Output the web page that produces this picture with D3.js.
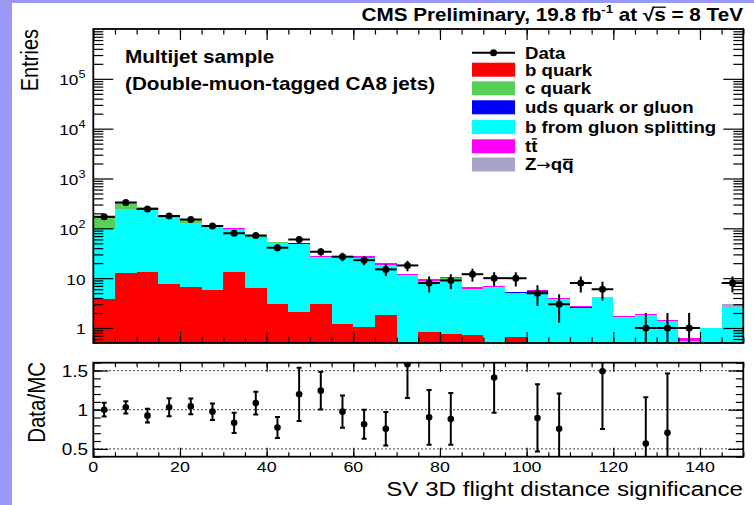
<!DOCTYPE html>
<html><head><meta charset="utf-8">
<script src="https://cdn.jsdelivr.net/npm/d3@7"></script>
<style>
body{margin:0;background:#fff}
svg{display:block}
text{font-family:"Liberation Sans",Arial,Helvetica,sans-serif;fill:#000}
</style>
</head><body>
<svg id="c" width="754" height="505"></svg>
<script>
// ---------- data ----------
const binLowEdges = [0,5,10,15,20,25,30,35,40,45,50,55,60,65,70,75,80,85,90,95,100,105,110,115,120,125,130,135,140,145];
const binWidth = 5;
const bQuark   = [3.9,12.5,13.5,7.6,6.5,5.8,13.5,6.4,3.0,2.07,3.0,1.2,1.06,1.85,0,0.84,0.75,0.73,0,0.67,0,0,0,0,0,0,0,0,0,0];
const bGluonSplit = [91.8,228.5,219.5,151.4,119.5,102.2,79.1,56.6,48.5,46.4,23.2,25.0,23.9,16.55,11.6,7.96,9.05,5.33,6.5,4.43,5.35,3.82,2.55,4.13,1.64,1.82,1.38,0.55,1.0,2.68];
const cQuark   = [63,82,30,16,24,6,4.5,6.5,1,1,0.3,0.3,0.8,0.3,0.1,0.1,0.1,0.05,0.05,0.05,0.05,0.03,0.02,0.02,0.02,0.02,0.02,0,0,0];
const udsQuark = [5,4,2,1.5,1.5,1,1,0.8,0.3,0.3,0.1,0.1,0.1,0.1,0.05,0.05,0.05,0.03,0.03,0.03,0.02,0.02,0.01,0.01,0.01,0.01,0.01,0,0,0];
const ttbar    = [1.5,3,7,2.5,2.5,2,2,3,1.5,1.7,1.3,1.3,2,1.1,0.6,0.6,0.55,0.4,0.5,0.2,0.4,0.22,0.15,0.05,0.05,0.08,0.07,0.07,0,0.02];
const zqq      = [0,0,0,0,0,0,0,0,0,0,0,0,0,0,0,0,0,0,0,0,0,0,0,0,0,0,0,0,0,0.3];
const dataCounts = [171,330,244,176,150,112,80,72,41,60,34,27,23,15,18,8,9,12,10,10,5,3,8,6,0,1,1,1,0,8];
// ratio Data/MC (null = outside the shown range)
const ratioVal = [1.00,1.03,0.924,1.03,1.042,0.975,0.832,1.084,0.773,1.197,1.243,0.975,0.815,0.757,1.58,0.903,0.882,null,1.412,null,0.895,0.757,null,1.49,null,0.567,0.706,null,null,null];
const ratioErr = [0.088,0.078,0.088,0.115,0.10,0.105,0.128,0.145,0.133,0.34,0.24,0.205,0.185,0.215,0.43,0.35,0.33,null,0.45,null,0.43,0.45,null,0.735,null,0.593,0.757,null,null,null];

const seriesNames  = ["b quark","b from gluon splitting","c quark","uds quark or gluon","tt","Z\u2192qq"];
const legendOrder  = ["b quark","c quark","uds quark or gluon","b from gluon splitting","tt","Z\u2192qq"];
const seriesColors = {"b quark":"#ff0000","b from gluon splitting":"#00ffff","c quark":"#58d058","uds quark or gluon":"#0000ff","tt":"#ff00ff","Z\u2192qq":"#a8a4c8"};
const stackValues  = [bQuark,bGluonSplit,cQuark,udsQuark,ttbar,zqq];

const xMajorTicks = [0,20,40,60,80,100,120,140];
const yDecadeTicks = [1,10,100,1000,10000,100000];
const ratioMajorTicks = [0.5,1,1.5];

// ---------- layout ----------
const BG = "#9a9af6";
const L = 93.3, R = 743.3, T1 = 29, B1 = 343, T2 = 362.7, B2 = 456.7;
const SX = 1.15;

const svg = d3.select("#c");
svg.append("rect").attr("width",754).attr("height",505).attr("fill","#fff");
svg.append("rect").attr("x",0).attr("y",0).attr("width",12).attr("height",505).attr("fill",BG);
svg.append("rect").attr("x",0).attr("y",0).attr("width",754).attr("height",3).attr("fill",BG);

const x = d3.scaleLinear([0,150],[L,R]);
const yTop = d3.scaleLog([0.5,1e6],[B1,T1]);
const yRat = d3.scaleLinear([0.4,1.6],[B2,T2]);

const defs = svg.append("defs");
defs.append("clipPath").attr("id","clipTop").append("rect").attr("x",L).attr("y",T1).attr("width",R-L).attr("height",B1-T1);
defs.append("clipPath").attr("id","clipBot").append("rect").attr("x",L).attr("y",T2).attr("width",R-L).attr("height",B2-T2);

function clampY(v, lo, hi){ return Math.max(lo, Math.min(hi, v)); }
function yT(v){ return v <= 0 ? B1 : clampY(yTop(v), T1, B1); }

// ---------- stacked histogram ----------
const gStack = svg.append("g").attr("clip-path","url(#clipTop)");
const cum = [];
stackValues.forEach((arr,k)=>{ cum.push(arr.map((v,i)=> v + (k>0 ? cum[k-1][i] : 0))); });
for (let k = stackValues.length-1; k >= 0; k--) {
  gStack.append("g").selectAll("rect").data(binLowEdges).join("rect")
    .attr("x", d=>x(d)).attr("width", d=>x(d+binWidth)-x(d))
    .attr("y", (d,i)=>yT(cum[k][i])).attr("height", (d,i)=>B1-yT(cum[k][i]))
    .attr("fill", seriesColors[seriesNames[k]]).attr("shape-rendering","crispEdges");
}

// ---------- data points ----------
const gData = svg.append("g").attr("clip-path","url(#clipTop)").attr("stroke","#000").attr("stroke-width",2);
binLowEdges.forEach((lo,i)=>{
  const n = dataCounts[i]; if (n <= 0) return;
  const cx = x(lo+binWidth/2), cy = yTop(n), e = Math.sqrt(n);
  gData.append("line").attr("x1",x(lo)).attr("x2",x(lo+binWidth)).attr("y1",cy).attr("y2",cy);
  gData.append("line").attr("x1",cx).attr("x2",cx).attr("y1",yT(n+e)).attr("y2",yT(n-e));
  gData.append("circle").attr("cx",cx).attr("cy",cy).attr("r",3.5).attr("fill","#000").attr("stroke","none");
});

// ---------- ratio panel ----------
const gGrid = svg.append("g");
ratioMajorTicks.forEach(v=>{
  gGrid.append("line").attr("x1",L).attr("x2",R).attr("y1",yRat(v)).attr("y2",yRat(v))
    .attr("stroke","#333").attr("stroke-width",1.2).attr("stroke-dasharray","1.5,2.5");
});
const gRat = svg.append("g").attr("clip-path","url(#clipBot)").attr("stroke","#000").attr("stroke-width",2);
binLowEdges.forEach((lo,i)=>{
  const v = ratioVal[i]; if (v == null) return;
  const e = ratioErr[i], cx = x(lo+binWidth/2);
  const yU = yRat(v+e), yD = yRat(v-e);
  gRat.append("line").attr("x1",cx).attr("x2",cx).attr("y1",clampY(yU,T2,B2)).attr("y2",clampY(yD,T2,B2));
  if (yU > T2) gRat.append("line").attr("x1",cx-2.5).attr("x2",cx+2.5).attr("y1",yU).attr("y2",yU);
  if (yD < B2) gRat.append("line").attr("x1",cx-2.5).attr("x2",cx+2.5).attr("y1",yD).attr("y2",yD);
  gRat.append("circle").attr("cx",cx).attr("cy",yRat(v)).attr("r",3.3).attr("fill","#000").attr("stroke","none");
});

// ---------- axes ticks ----------
function ticks(tr, axisGen){
  const g = svg.append("g").attr("transform",tr).call(axisGen);
  g.select(".domain").remove();
  g.selectAll(".tick text").remove();
  g.selectAll(".tick line").attr("stroke","#000").attr("stroke-width",1.2);
}
const xMinor = d3.range(0,151,5);
// upper x
ticks(`translate(0,${B1})`, d3.axisBottom(x).tickValues(xMajorTicks).tickSize(-11));
ticks(`translate(0,${B1})`, d3.axisBottom(x).tickValues(xMinor).tickSize(-5.5));
ticks(`translate(0,${T1})`, d3.axisTop(x).tickValues(xMajorTicks).tickSize(-11));
ticks(`translate(0,${T1})`, d3.axisTop(x).tickValues(xMinor).tickSize(-5.5));
// upper y (log)
const yMinor = [];
for (let e=-1;e<=5;e++) for (let m=2;m<=9;m++){ const v=m*Math.pow(10,e); if (v>0.5 && v<1e6) yMinor.push(v); }
ticks(`translate(${L},0)`, d3.axisLeft(yTop).tickValues(yDecadeTicks).tickSize(-20));
ticks(`translate(${L},0)`, d3.axisLeft(yTop).tickValues(yMinor).tickSize(-10));
ticks(`translate(${R},0)`, d3.axisRight(yTop).tickValues(yDecadeTicks).tickSize(-20));
ticks(`translate(${R},0)`, d3.axisRight(yTop).tickValues(yMinor).tickSize(-10));
// lower x
ticks(`translate(0,${B2})`, d3.axisBottom(x).tickValues(xMajorTicks).tickSize(-9));
ticks(`translate(0,${B2})`, d3.axisBottom(x).tickValues(xMinor).tickSize(-4.5));
ticks(`translate(0,${T2})`, d3.axisTop(x).tickValues(xMajorTicks).tickSize(-9));
ticks(`translate(0,${T2})`, d3.axisTop(x).tickValues(xMinor).tickSize(-4.5));
// lower y
const rMinor = d3.range(4,17).map(v=>v/10);
ticks(`translate(${L},0)`, d3.axisLeft(yRat).tickValues(ratioMajorTicks).tickSize(-15));
ticks(`translate(${L},0)`, d3.axisLeft(yRat).tickValues(rMinor).tickSize(-7.5));
ticks(`translate(${R},0)`, d3.axisRight(yRat).tickValues(ratioMajorTicks).tickSize(-15));
ticks(`translate(${R},0)`, d3.axisRight(yRat).tickValues(rMinor).tickSize(-7.5));

// frames
[[T1,B1],[T2,B2]].forEach(([t,b])=>{
  svg.append("rect").attr("x",L).attr("y",t).attr("width",R-L).attr("height",b-t)
    .attr("fill","none").attr("stroke","#000").attr("stroke-width",1.8);
});

// ---------- text helper ----------
function label(x0,y0,str,{size=16,weight="normal",anchor="start",rot=0}={}){
  const g = svg.append("g").attr("transform",`translate(${x0},${y0}) scale(${SX},1)`+(rot?` rotate(${rot})`:""));
  const t = g.append("text").attr("font-size",size).attr("font-weight",weight).attr("text-anchor",anchor).text(str);
  return {g,t};
}

// tick labels
xMajorTicks.forEach(v=> label(x(v),472,String(v),{size:15.5,anchor:"middle"}));
ratioMajorTicks.forEach(v=> label(88,yRat(v)+6,String(v),{size:16.5,anchor:"end"}));
yDecadeTicks.forEach(v=>{
  const e = Math.round(Math.log10(v));
  const {t} = label(85.5,yTop(v)+6.5, e<2 ? String(v) : "10",{size:15,anchor:"end"});
  if (e>=2) t.append("tspan").attr("font-size",11).attr("dy",-7).text(String(e));
});

// axis titles
label(37.5,29,"Entries",{size:20,anchor:"end",rot:-90});
label(45,362,"Data/MC",{size:20.5,anchor:"end",rot:-90});
label(743,496,"SV 3D flight distance significance",{size:21,anchor:"end"});

// title
{
  const g = svg.append("g").attr("transform",`translate(743,21) scale(${SX},1)`);
  const t = g.append("text").attr("font-size",18).attr("font-weight","bold").attr("text-anchor","end");
  const p1 = "CMS Preliminary, 19.8 fb", p2 = "-1", p3 = " at \u221As = 8 TeV";
  t.append("tspan").text(p1);
  t.append("tspan").attr("font-size",11.5).attr("dy",-8).text(p2);
  t.append("tspan").attr("dy",8).text(p3);
  const idx = (p1+p2+p3).indexOf("\u221A");
  const n = t.node();
  const x1 = n.getEndPositionOfChar(idx).x - 1.5, x2 = n.getEndPositionOfChar(idx+1).x;
  g.append("line").attr("x1",x1).attr("x2",x2).attr("y1",-13.8).attr("y2",-13.8).attr("stroke","#000").attr("stroke-width",1.3);
}

// annotation
label(125,63,"Multijet sample",{size:18,weight:"bold"});
label(125,90,"(Double-muon-tagged CA8 jets)",{size:18,weight:"bold"});

// legend
const legRows = [52.7,69.7,88.3,107.3,127,146.3,164.5];
const legX0 = 472, legX1 = 515, legTX = 525;
svg.append("line").attr("x1",legX0).attr("x2",legX1).attr("y1",legRows[0]).attr("y2",legRows[0]).attr("stroke","#000").attr("stroke-width",2);
svg.append("circle").attr("cx",(legX0+legX1)/2).attr("cy",legRows[0]).attr("r",3.5).attr("fill","#000");
label(legTX,legRows[0]+5.8,"Data",{size:16.2,weight:"bold"});
legendOrder.forEach((name,j)=>{
  const cy = legRows[j+1];
  svg.append("rect").attr("x",legX0).attr("y",cy-7).attr("width",legX1-legX0).attr("height",14).attr("fill",seriesColors[name]);
  let g, t;
  if (name==="Z\u2192qq"){
    ({g,t} = label(legTX,cy+5.8,"",{size:16.2,weight:"bold"}));
    t.append("tspan").text("Z");
    t.append("tspan").attr("font-family","'DejaVu Sans',sans-serif").attr("font-weight","normal").attr("font-size",15).text("\u2192");
    t.append("tspan").text("qq");
  } else {
    ({g,t} = label(legTX,cy+5.8,name,{size:16.2,weight:"bold"}));
  }
  if (name==="tt" || name==="Z\u2192qq"){
    const n = t.node(), last = n.getNumberOfChars()-1;
    const a = n.getStartPositionOfChar(last).x, b = n.getEndPositionOfChar(last).x;
    const yy = name==="tt" ? -13.2 : -10.8;
    g.append("line").attr("x1",a+0.5).attr("x2",b-0.5).attr("y1",yy).attr("y2",yy).attr("stroke","#000").attr("stroke-width",1.4);
  }
});
</script>
</body></html>
